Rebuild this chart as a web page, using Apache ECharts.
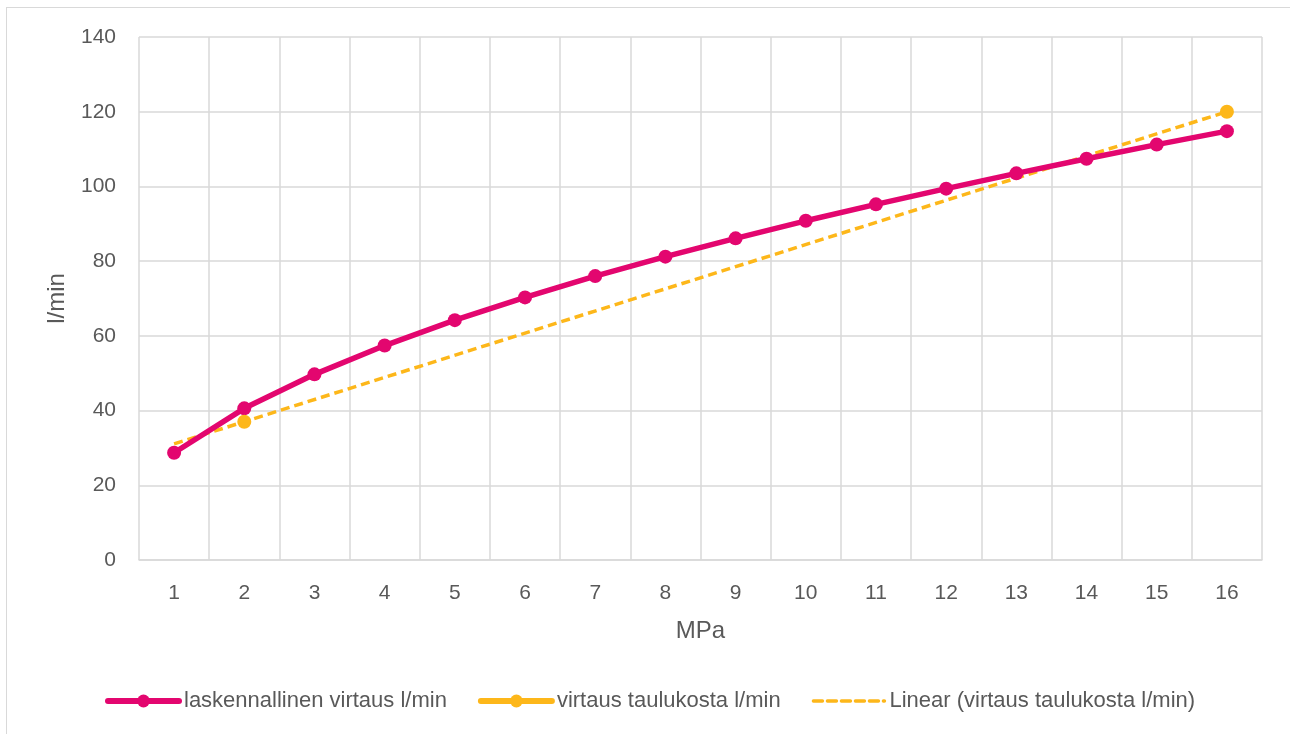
<!DOCTYPE html>
<html>
<head>
<meta charset="utf-8">
<script src="https://cdn.jsdelivr.net/npm/echarts@6/dist/echarts.min.js"></script>
<style>
  html, body { margin: 0; padding: 0; background: #fff; }
  #frame { position: absolute; left: 6px; top: 7px; width: 1300px; height: 740px; border: 1.5px solid #d9d9d9; box-sizing: border-box; }
  #chart { position: absolute; left: 0; top: 0; width: 1290px; height: 734px; }
</style>
</head>
<body>
<div id="frame"></div>
<div id="chart"></div>
<script>
// Pressure steps (MPa)
const pressures = ['1','2','3','4','5','6','7','8','9','10','11','12','13','14','15','16'];
// Calculated flow, l/min
const calcFlow = [28.7, 40.6, 49.7, 57.4, 64.2, 70.3, 76.0, 81.2, 86.1, 90.8, 95.2, 99.4, 103.5, 107.4, 111.2, 114.8];
// Flow from table, l/min (only two table entries)
const tableFlow = [null, 37, null, null, null, null, null, null, null, null, null, null, null, null, null, 120];
// Linear trend of the table values, drawn between its end points
const trendFlow = [31.1, null, null, null, null, null, null, null, null, null, null, null, null, null, null, 120];

const names = ['laskennallinen virtaus l/min', 'virtaus taulukosta l/min', 'Linear (virtaus taulukosta l/min)'];
const MAGENTA = '#E3066F';
const YELLOW = '#FDB71A';
const TEXT = '#595959';
const GRID = '#d9d9d9';
const FONT = '"Liberation Sans", "DejaVu Sans", sans-serif';

const chart = echarts.init(document.getElementById('chart'), null, { renderer: 'canvas' });
chart.setOption({
  animation: false,
  textStyle: { fontFamily: FONT, color: TEXT },
  grid: { left: 139, right: 28, top: 37, bottom: 174, containLabel: false },
  legend: {
    top: 685,
    left: 100,
    itemWidth: 71,
    itemHeight: 16,
    itemGap: 31,
    textStyle: { fontFamily: FONT, fontSize: 22, color: TEXT },
    data: [
      { name: names[0], lineStyle: { width: 6, cap: 'round' } },
      { name: names[1], lineStyle: { width: 6, cap: 'round' } },
      { name: names[2], lineStyle: { width: 3.5, type: [9, 5], cap: 'round' }, itemStyle: { opacity: 0 } }
    ]
  },
  xAxis: {
    type: 'category',
    data: pressures,
    boundaryGap: true,
    name: 'MPa',
    nameLocation: 'middle',
    nameGap: 59,
    nameTextStyle: { fontFamily: FONT, fontSize: 24, color: TEXT },
    axisLine: { show: true, lineStyle: { color: GRID, width: 1.5 } },
    axisTick: { show: false },
    axisLabel: { margin: 23, fontSize: 21, color: TEXT, fontFamily: FONT },
    splitLine: { show: true, lineStyle: { color: GRID, width: 1.5 } }
  },
  yAxis: {
    type: 'value',
    min: 0,
    max: 140,
    interval: 20,
    name: 'l/min',
    nameLocation: 'middle',
    nameGap: 70,
    nameRotate: 90,
    nameTextStyle: { fontFamily: FONT, fontSize: 24, color: TEXT },
    axisLine: { show: false },
    axisTick: { show: false },
    axisLabel: { margin: 23, fontSize: 21, color: TEXT, fontFamily: FONT },
    splitLine: { show: true, lineStyle: { color: GRID, width: 1.5 } }
  },
  series: [
    {
      name: names[2],
      type: 'line',
      data: trendFlow,
      connectNulls: true,
      showSymbol: false,
      symbol: 'none',
      lineStyle: { color: YELLOW, width: 3.5, type: [9, 5] },
      itemStyle: { color: YELLOW },
      z: 2
    },
    {
      name: names[0],
      type: 'line',
      data: calcFlow,
      symbol: 'circle',
      symbolSize: 14,
      lineStyle: { color: MAGENTA, width: 5.5 },
      itemStyle: { color: MAGENTA },
      z: 3
    },
    {
      name: names[1],
      type: 'line',
      data: tableFlow,
      connectNulls: false,
      symbol: 'circle',
      symbolSize: 14,
      lineStyle: { color: YELLOW, width: 5.5 },
      itemStyle: { color: YELLOW },
      z: 4
    }
  ]
});
</script>
</body>
</html>
